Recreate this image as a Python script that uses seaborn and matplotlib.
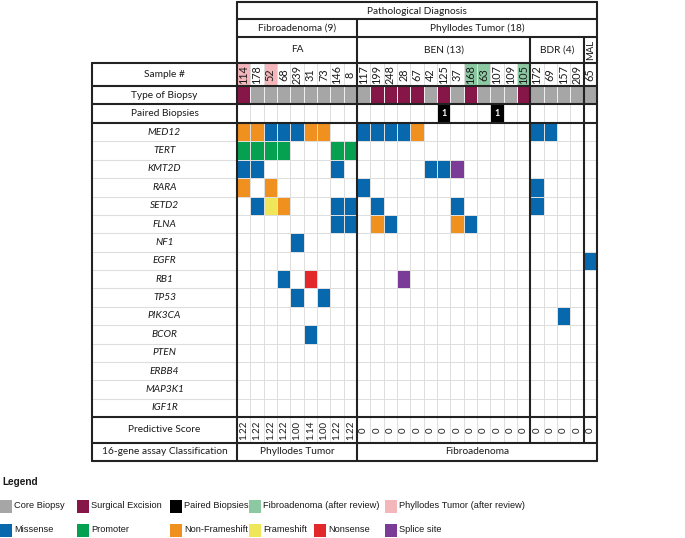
import numpy as np
import pandas as pd
import matplotlib
matplotlib.use('Agg')
import matplotlib.pyplot as plt
from matplotlib.colors import ListedColormap
from matplotlib.patches import Rectangle
import seaborn as sns

#DATA
####################################################################################################

samples = ['114', '178', '52', '68', '239', '31', '73', '146', '8',
           '117', '199', '248', '28', '67', '42', '125', '37', '168', '63', '107', '109', '105',
           '172', '69', '157', '209',
           '65']
groups = ['FA', 'BEN (13)', 'BDR (4)', 'MAL']
group_sizes = [9, 13, 4, 1]

# review status of sample: '.' none, 'P' phyllodes after review, 'F' fibroadenoma after review
review = 'P.P......' + '........FF..F' + '....' + '.'
# biopsy type: C core, S surgical excision
biopsy = 'SCCCCCCCC' + 'CSSSSCSCSCCCS' + 'CCCC' + 'C'
paired = [0] * 15 + [1] + [0] * 3 + [1] + [0] * 7
predictive = ['1.22', '1.22', '1.22', '1.22', '1.00', '1.14', '1.00', '1.22', '1.22'] + ['0'] * 18
classification = ['Phyllodes Tumor', 'Fibroadenoma']
class_sizes = [9, 18]

genes = ['MED12', 'TERT', 'KMT2D', 'RARA', 'SETD2', 'FLNA', 'NF1', 'EGFR', 'RB1', 'TP53',
         'PIK3CA', 'BCOR', 'PTEN', 'ERBB4', 'MAP3K1', 'IGF1R']
# M missense, P promoter, N non-frameshift, F frameshift, X nonsense, S splice site
#                FA         BEN            BDR  MAL
mutations = ['NNMMMNN..' 'MMMMN........' 'MM..' '.',   # MED12
             'PPPP...PP' '.............' '....' '.',   # TERT
             'MM.....M.' '.....MMS.....' '....' '.',   # KMT2D
             'N.N......' 'M............' 'M...' '.',   # RARA
             '.MFN...MM' '.M.....M.....' 'M...' '.',   # SETD2
             '.......MM' '.NM....NM....' '....' '.',   # FLNA
             '....M....' '.............' '....' '.',   # NF1
             '.........' '.............' '....' 'M',   # EGFR
             '...M.X...' '...S.........' '....' '.',   # RB1
             '....M.M..' '.............' '....' '.',   # TP53
             '.........' '.............' '..M.' '.',   # PIK3CA
             '.....M...' '.............' '....' '.',   # BCOR
             '.........' '.............' '....' '.',   # PTEN
             '.........' '.............' '....' '.',   # ERBB4
             '.........' '.............' '....' '.',   # MAP3K1
             '.........' '.............' '....' '.']   # IGF1R

mut_codes = ['.', 'M', 'P', 'N', 'F', 'X', 'S']
mut_names = ['', 'Missense', 'Promoter', 'Non-Frameshift', 'Frameshift', 'Nonsense', 'Splice site']
mut_colors = ['#ffffff', '#0868ad', '#05a050', '#f0901e', '#efe65a', '#e3282c', '#7a3c96']

c_core, c_surg, c_pair = '#a6a6a6', '#861648', '#000000'
c_fa_rev, c_pt_rev = '#8cc9a3', '#f3b6bb'

#FIGURE
####################################################################################################

sns.set_theme(style='white')
plt.rcParams['font.family'] = ['Lato', 'DejaVu Sans']
plt.rcParams['text.color'] = '#1a1a1a'
W, H = 685, 538
fig = plt.figure(figsize=(W / 100, H / 100), dpi=100)
grid_c = '#dedede'
fs = 7.3

X0, X1 = 237, 597
LX0 = 92
colw = (X1 - X0) / len(samples)


def px_axes(x0, y0, x1, y1):
    return fig.add_axes([x0 / W, 1 - y1 / H, (x1 - x0) / W, (y1 - y0) / H])


def clean(a):
    a.set_xlabel('')
    a.set_ylabel('')
    a.set_xticks([])
    a.set_yticks([])


# Sample # row
rev_df = pd.DataFrame([['.PF'.index(r) for r in review]], columns=samples)
a = px_axes(X0, 63, X1, 86)
sns.heatmap(rev_df, cmap=ListedColormap(['#ffffff', c_pt_rev, c_fa_rev]), vmin=-0.5, vmax=2.5,
            cbar=False, linewidths=0.6, linecolor=grid_c, ax=a,
            annot=np.array([samples]), fmt='', annot_kws={'rotation': 90, 'color': '#1a1a1a', 'fontsize': 7.8})
clean(a)

# Type of biopsy row
bio_df = pd.DataFrame([[1 if b == 'S' else 0 for b in biopsy]], columns=samples)
a = px_axes(X0, 86, X1, 104)
sns.heatmap(bio_df, cmap=ListedColormap([c_core, c_surg]), vmin=-0.5, vmax=1.5,
            cbar=False, linewidths=0.5, linecolor='#eeeeee', ax=a)
clean(a)

# Paired biopsies row
pair_df = pd.DataFrame([paired], columns=samples)
a = px_axes(X0, 104, X1, 123)
sns.heatmap(pair_df, cmap=ListedColormap(['#ffffff', c_pair]), vmin=-0.5, vmax=1.5,
            cbar=False, linewidths=0.6, linecolor=grid_c, ax=a,
            annot=np.array([['1' if p else '' for p in paired]]), fmt='',
            annot_kws={'color': 'white', 'fontsize': 6.5, 'fontweight': 'bold'})
clean(a)

# Gene mutation matrix
mut_df = pd.DataFrame([[mut_codes.index(c) for c in row] for row in mutations], index=genes, columns=samples)
a = px_axes(X0, 123, X1, 417)
sns.heatmap(mut_df, cmap=ListedColormap(mut_colors), vmin=-0.5, vmax=len(mut_codes) - 0.5,
            cbar=False, linewidths=0.6, linecolor=grid_c, ax=a)
clean(a)

# Predictive score row
score_df = pd.DataFrame([[0] * len(samples)], columns=samples)
a = px_axes(X0, 417, X1, 443)
sns.heatmap(score_df, cmap=ListedColormap(['#ffffff']), cbar=False, linewidths=0.6, linecolor=grid_c, ax=a,
            annot=np.array([predictive]), fmt='', annot_kws={'rotation': 90, 'color': '#1a1a1a', 'fontsize': 7})
clean(a)

#TABLE LINES AND LABELS
####################################################################################################

ax = fig.add_axes([0, 0, 1, 1])
ax.set_xlim(0, W)
ax.set_ylim(H, 0)
ax.axis('off')
lw = 1.5
lc = '#222222'

# header boxes
ax.text((X0 + X1) / 2, 11, 'Pathological Diagnosis', ha='center', va='center', fontsize=fs)
ax.text((X0 + 357) / 2, 28, 'Fibroadenoma (9)', ha='center', va='center', fontsize=fs)
ax.text((357 + X1) / 2, 28, 'Phyllodes Tumor (18)', ha='center', va='center', fontsize=fs)
bounds = X0 + np.cumsum([0] + group_sizes) * colw
for g, xa, xb in zip(groups, bounds[:-1], bounds[1:]):
    if g == 'MAL':
        ax.text((xa + xb) / 2, 50, g, ha='center', va='center', fontsize=6.8, rotation=90)
    else:
        ax.text((xa + xb) / 2, 50, g, ha='center', va='center', fontsize=fs)

for y in [2, 19, 37]:
    ax.plot([X0, X1], [y, y], color=lc, lw=lw)
ax.plot([X0, X0], [2, 461], color=lc, lw=lw)
ax.plot([X1, X1], [2, 461], color=lc, lw=lw)
ax.plot([bounds[1]] * 2, [19, 461], color=lc, lw=lw)
for xb in bounds[2:-1]:
    ax.plot([xb, xb], [37, 443], color=lc, lw=lw)

# left table
for y in [63, 86, 104, 123, 417, 443, 461]:
    ax.plot([LX0, X1], [y, y], color=lc, lw=lw)
ax.plot([LX0, LX0], [63, 461], color=lc, lw=lw)
lcx = (LX0 + X0) / 2
ax.text(lcx, 74.5, 'Sample #', ha='center', va='center', fontsize=fs)
ax.text(lcx, 95, 'Type of Biopsy', ha='center', va='center', fontsize=fs)
ax.text(lcx, 113.5, 'Paired Biopsies', ha='center', va='center', fontsize=fs)
rowh = (417 - 123) / len(genes)
for i, g in enumerate(genes):
    yc = 123 + (i + 0.5) * rowh
    ax.text(lcx, yc, g, ha='center', va='center', fontsize=fs, style='italic')
    if i > 0:
        ax.plot([LX0, X0], [123 + i * rowh] * 2, color=grid_c, lw=0.8, zorder=0)
ax.text(lcx, 430, 'Predictive Score', ha='center', va='center', fontsize=fs)
ax.text(lcx, 452, '16-gene assay Classification', ha='center', va='center', fontsize=fs)
cb = X0 + np.cumsum([0] + class_sizes) * colw
for c, xa, xb in zip(classification, cb[:-1], cb[1:]):
    ax.text((xa + xb) / 2, 452, c, ha='center', va='center', fontsize=fs)

#LEGEND
####################################################################################################

lfont = ['Liberation Sans', 'DejaVu Sans']
ax.text(2, 482, 'Legend', ha='left', va='center', fontsize=7.2, fontweight='bold', family=lfont)
row1 = [('Core Biopsy', c_core, 0), ('Surgical Excision', c_surg, 77), ('Paired Biopsies', c_pair, 170),
        ('Fibroadenoma (after review)', c_fa_rev, 249), ('Phyllodes Tumor (after review)', c_pt_rev, 385)]
row2 = [(mut_names[1], mut_colors[1], 0), (mut_names[2], mut_colors[2], 77), (mut_names[3], mut_colors[3], 170),
        (mut_names[4], mut_colors[4], 249), (mut_names[5], mut_colors[5], 314), (mut_names[6], mut_colors[6], 385)]
for yc, items in [(506, row1), (530, row2)]:
    for label, col, xl in items:
        ax.add_patch(Rectangle((xl, yc - 6.5), 12, 13, facecolor=col, edgecolor='none'))
        ax.text(xl + 14.5, yc, label, ha='left', va='center', fontsize=6.7, family=lfont)

fig.savefig('out.png', dpi=100)
